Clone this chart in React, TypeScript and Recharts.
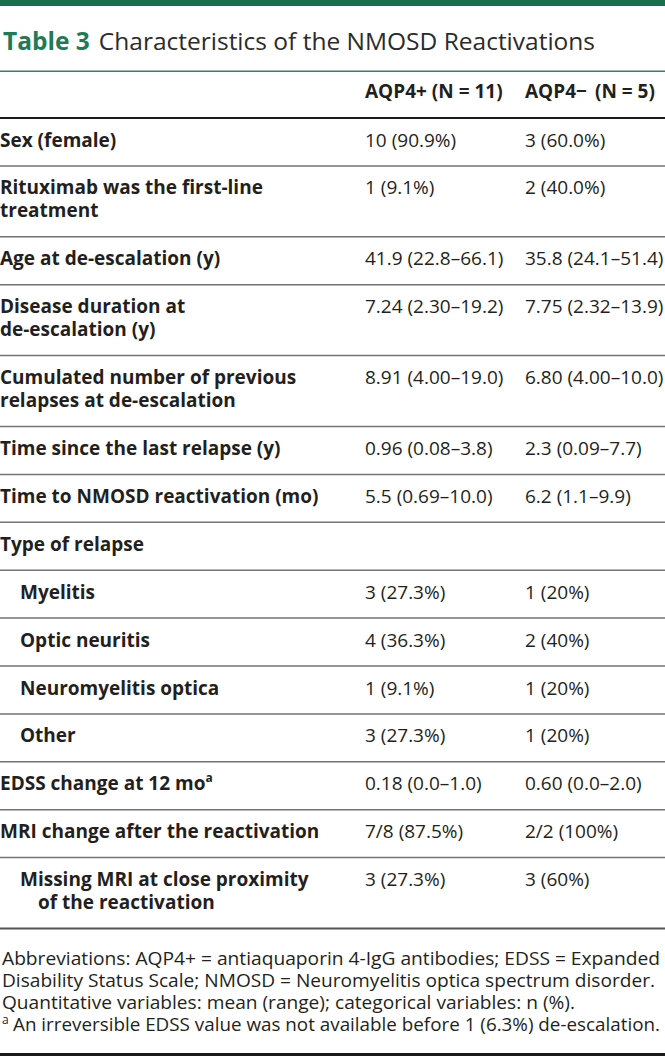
import React from "react";
import { Surface, Layer, Text, Rectangle } from "recharts";

// Row labels ("\n" splits a label over two lines)
const rowLabels = [
  "Sex (female)",
  "Rituximab was the first-line\ntreatment",
  "Age at de-escalation (y)",
  "Disease duration at\nde-escalation (y)",
  "Cumulated number of previous\nrelapses at de-escalation",
  "Time since the last relapse (y)",
  "Time to NMOSD reactivation (mo)",
  "Type of relapse",
  "Myelitis",
  "Optic neuritis",
  "Neuromyelitis optica",
  "Other",
  "EDSS change at 12 mo",
  "MRI change after the reactivation",
  "Missing MRI at close proximity\nof the reactivation",
];
const rowIndent = [0, 0, 0, 0, 0, 0, 0, 0, 1, 1, 1, 1, 0, 0, 1];
const rowNote = ["", "", "", "", "", "", "", "", "", "", "", "", "a", "", ""];

const aqp4Pos = [
  "10 (90.9%)", "1 (9.1%)", "41.9 (22.8–66.1)", "7.24 (2.30–19.2)", "8.91 (4.00–19.0)",
  "0.96 (0.08–3.8)", "5.5 (0.69–10.0)", "", "3 (27.3%)", "4 (36.3%)", "1 (9.1%)",
  "3 (27.3%)", "0.18 (0.0–1.0)", "7/8 (87.5%)", "3 (27.3%)",
];
const aqp4Neg = [
  "3 (60.0%)", "2 (40.0%)", "35.8 (24.1–51.4)", "7.75 (2.32–13.9)", "6.80 (4.00–10.0)",
  "2.3 (0.09–7.7)", "6.2 (1.1–9.9)", "", "1 (20%)", "2 (40%)", "1 (20%)",
  "1 (20%)", "0.60 (0.0–2.0)", "2/2 (100%)", "3 (60%)",
];
const columnHeaders = ["AQP4+ (N = 11)", "AQP4−\u2009 (N = 5)"];

const footnotes = [
  "Abbreviations: AQP4+ = antiaquaporin 4-IgG antibodies; EDSS = Expanded",
  "Disability Status Scale; NMOSD = Neuromyelitis optica spectrum disorder.",
  "Quantitative variables: mean (range); categorical variables: n (%).",
  "An irreversible EDSS value was not available before 1 (6.3%) de-escalation.",
];
// rendered width of each footnote line, so the lines wrap exactly like the print
const footnoteWidths = [658, 653, 573, 647];

const W = 665;
const H = 1056;
const FONT = "'Open Sans', 'Noto Sans', sans-serif";
const INK = "#231f20";
const GREEN = "#1b6e4d";
const TOP = 118;
const ROW = 47.9;
const LINE_H = 23;
const BASE = 28.5;
const COL2 = 365;
const COL3 = 525;
const FS = 19;

export default function App() {
  let y = TOP;
  const rows = rowLabels.map((label, i) => {
    const lines = label.split("\n");
    const h = ROW + (lines.length - 1) * LINE_H;
    const r = { top: y, h, lines, i };
    y += h;
    return r;
  });
  const tableEnd = y;

  return (
    <div style={{ position: "absolute", left: 0, top: 0 }}>
      <Surface width={W} height={H} viewBox={{ x: 0, y: 0, width: W, height: H }}>
        <Rectangle x={0} y={0} width={W} height={6} fill={GREEN} />
        <text x={3} y={50} fontFamily={FONT} fontSize={24.5} fill="#2b2b2b">
          <tspan fontWeight={700} fill="#1f7a58">Table 3</tspan>
          <tspan dx={9}>Characteristics of the NMOSD Reactivations</tspan>
        </text>
        <Rectangle x={0} y={70.5} width={W} height={1.5} fill="#2f8563" />

        {columnHeaders.map((hd, k) => (
          <Text key={hd} x={k === 0 ? COL2 : COL3} y={98} fontFamily={FONT} fontSize={FS}
            fontWeight={700} fill={INK}>
            {hd}
          </Text>
        ))}
        <Rectangle x={0} y={117} width={W} height={2} fill="#1a1a1a" />

        {rows.map((r) => (
          <Layer key={r.i}>
            {r.lines.map((ln, j) => (
              <text key={j} x={r.i === 14 && j === 1 ? 38 : rowIndent[r.i] ? 20 : 0}
                y={r.top + BASE + j * LINE_H} fontFamily={FONT} fontSize={FS} fontWeight={700} fill={INK}>
                {ln}
                {rowNote[r.i] && (
                  <tspan fontSize={12} dy={-8}>{rowNote[r.i]}</tspan>
                )}
              </text>
            ))}
            <Text x={COL2} y={r.top + BASE} fontFamily={FONT} fontSize={FS} fill={INK}>
              {aqp4Pos[r.i]}
            </Text>
            <Text x={COL3} y={r.top + BASE} fontFamily={FONT} fontSize={FS} fill={INK}>
              {aqp4Neg[r.i]}
            </Text>
            {r.i < rows.length - 1 && (
              <Rectangle x={0} y={r.top + r.h - 0.75} width={W} height={1.5} fill="#737373" />
            )}
          </Layer>
        ))}
        <Rectangle x={0} y={tableEnd - 1} width={W} height={2} fill="#555" />

        {footnotes.map((f, k) => {
          const last = k === footnotes.length - 1;
          return (
            <Layer key={k}>
              {last && (
                <text x={2} y={965 + k * 22 - 7} fontFamily={FONT} fontSize={12} fill={INK}>a</text>
              )}
              <text x={last ? 13 : 2} y={965 + k * 22} fontFamily={FONT} fontSize={19}
                fill={INK} textLength={footnoteWidths[k]} lengthAdjust="spacingAndGlyphs">
                {f}
              </text>
            </Layer>
          );
        })}
        <Rectangle x={0} y={1053} width={W} height={3} fill="#1a1a1a" />
      </Surface>
    </div>
  );
}
